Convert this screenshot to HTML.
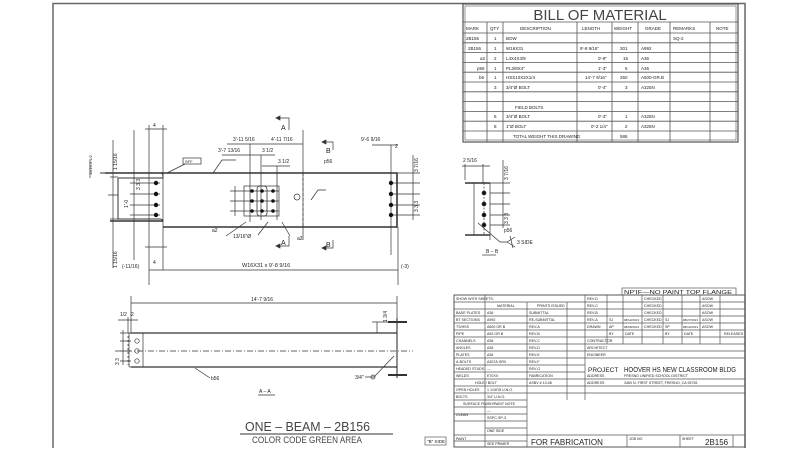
<!DOCTYPE html>
<html><head><meta charset="utf-8"><style>
html,body{margin:0;padding:0;background:#fff;}
svg{display:block;font-family:"Liberation Sans",sans-serif;}
</style></head><body>
<svg width="800" height="450" viewBox="0 0 800 450" xmlns="http://www.w3.org/2000/svg">
<g stroke="#444" fill="none" stroke-width="1">
<path d="M53 448 V3.5 H745 V448" stroke="#666" stroke-width="1.5"/>
</g>

<g stroke="#555" fill="none" stroke-width="0.8">
<rect x="463" y="4" width="275" height="138" stroke-width="1.2"/>
<rect x="465" y="6" width="271" height="134" stroke-width="0.6"/>
<line x1="463" y1="22" x2="738" y2="22"/>
<line x1="463" y1="33" x2="738" y2="33"/>
<line x1="463" y1="42.8" x2="738" y2="42.8"/><line x1="463" y1="52.6" x2="738" y2="52.6"/>
<line x1="463" y1="62.4" x2="738" y2="62.4"/><line x1="463" y1="72.2" x2="738" y2="72.2"/>
<line x1="463" y1="82" x2="738" y2="82"/><line x1="463" y1="91.8" x2="738" y2="91.8"/>
<line x1="463" y1="101.6" x2="738" y2="101.6"/><line x1="463" y1="111.4" x2="738" y2="111.4"/>
<line x1="463" y1="121.2" x2="738" y2="121.2"/><line x1="463" y1="131" x2="738" y2="131"/>
<path d="M487 22V142 M503 22V142 M577 22V142 M612 22V142 M638 22V142 M670 22V142 M710 22V142"/>
</g>
<g fill="#222" font-size="4.5">
<text x="600" y="20" font-size="15" text-anchor="middle" fill="#444">BILL OF MATERIAL</text>
<text x="466" y="30">MARK</text><text x="490" y="30">QTY</text><text x="520" y="30">DESCRIPTION</text><text x="582" y="30">LENGTH</text><text x="614" y="30">WEIGHT</text><text x="645" y="30">GRADE</text><text x="673" y="30">REMARKS</text><text x="716" y="30">NOTE</text>
<text x="466" y="40">2B156</text><text x="494" y="40">1</text><text x="506" y="40">BOW</text><text x="673" y="40">SQ-2</text>
<text x="468" y="50">2B156</text><text x="494" y="50">1</text><text x="506" y="50">W16X31</text><text x="580" y="50">9'-8 9/16"</text><text x="620" y="50">301</text><text x="641" y="50">A992</text>
<text x="480" y="60">a2</text><text x="494" y="60">2</text><text x="506" y="60">L4X4X3/8</text><text x="598" y="60">0'-9"</text><text x="623" y="60">15</text><text x="641" y="60">A36</text>
<text x="477" y="70">p56</text><text x="494" y="70">1</text><text x="506" y="70">PL3/8X4"</text><text x="598" y="70">1'-3"</text><text x="625" y="70">6</text><text x="641" y="70">A36</text>
<text x="479" y="79">b6</text><text x="494" y="79">1</text><text x="506" y="79">HSS10X2X1/4</text><text x="585" y="79">14'-7 9/16"</text><text x="620" y="79">260</text><text x="641" y="79">A500-GR.B</text>
<text x="494" y="89">3</text><text x="506" y="89">3/4"Ø BOLT</text><text x="598" y="89">0'-4"</text><text x="625" y="89">3</text><text x="641" y="89">A325N</text>
<text x="515" y="109">FIELD BOLTS</text>
<text x="494" y="118">6</text><text x="506" y="118">3/4"Ø BOLT</text><text x="598" y="118">0'-3"</text><text x="625" y="118">1</text><text x="641" y="118">A325N</text>
<text x="494" y="128">8</text><text x="506" y="128">1"Ø BOLT</text><text x="591" y="128">0'-2 1/4"</text><text x="625" y="128">2</text><text x="641" y="128">A325N</text>
<text x="513" y="138">TOTAL WEIGHT THIS DRAWING</text><text x="620" y="138">586</text>
</g>

<g stroke="#333" fill="none" stroke-width="0.7">
<path d="M100 173 H160 Q163 173 163 176 V178 H118 M118 178 V219 H160 Q163 219 163 222" stroke-width="1"/>
<path d="M163 173 H397 V227 H163" stroke-width="1.6"/>
<path d="M105 173 H163" stroke-width="1.6"/>
<path d="M110 221 H163" stroke-width="1.6"/>
<path d="M149 125 V285 M163 125 V270 M391 145 V255 M398 227 V285"/>
<path d="M145 129 H167 M145 247 H167"/>
<path d="M134 130 V260 M113 140 V268 M108 195 H118"/>
<path d="M130 183 H160 M130 194 H160 M130 205 H160 M130 215 H160 M110 177 H118 M110 219 H118"/>
<path d="M90 160 V178"/>
<path d="M391 183 H420 M391 194 H420 M391 205 H420 M391 215 H420 M398 173 H420 M413 155 V220 M372 145 H398"/>
<path d="M149 270 H398" />
<path d="M227 144 H303 M222 155 H275 M262 166 H290 M250 144 V222 M261 155 V220 M277 166 V220 M303 130 V240"/>
<rect x="244" y="186" width="35" height="30"/>
<path d="M244 191 H279 M244 201 H279 M244 211 H279 M230 191 H244 M230 201 H244 M230 211 H244 M235 186 V216"/>
<path d="M303 173 V227" stroke-dasharray="3,2"/>
<path d="M276 118 H289 V130 M276 246 H289 V236 M322 142 H333 V150 M322 248 H333 V240"/>
<path d="M276 118 l4 -2 v4 z M276 246 l4 -2 v4 z M322 142 l4 -2 v4z M322 248 l4 -2 v4z" fill="#333"/>
<path d="M213 173 L222 160 H236 M226 236 L246 222 M258 235 L268 222 M290 236 L282 222 M311 200 L318 190 H326"/>
<rect x="183" y="158" width="18" height="6"/>
<path d="M185 164 L167 173"/>
<circle cx="297" cy="197" r="3"/>
</g>
<g fill="#111">
<circle cx="156" cy="183" r="2.2"/><circle cx="156" cy="194" r="2.2"/><circle cx="156" cy="205" r="2.2"/><circle cx="156" cy="215" r="2.2"/>
<circle cx="391" cy="183" r="2.2"/><circle cx="391" cy="194" r="2.2"/><circle cx="391" cy="205" r="2.2"/><circle cx="391" cy="215" r="2.2"/>
<circle cx="252" cy="191" r="1.8"/><circle cx="262" cy="191" r="1.8"/><circle cx="273" cy="191" r="1.8"/>
<circle cx="252" cy="201" r="1.8"/><circle cx="262" cy="201" r="1.8"/><circle cx="273" cy="201" r="1.8"/>
<circle cx="252" cy="211" r="1.8"/><circle cx="262" cy="211" r="1.8"/><circle cx="273" cy="211" r="1.8"/>
</g>
<rect x="257" y="186" width="10" height="30" rx="3" fill="none" stroke="#333" stroke-width="0.8"/>
<g fill="#222" font-size="5">
<text x="153" y="127">4</text><text x="153" y="264">4</text>
<text x="233" y="141">3'-11 5/16</text><text x="271" y="141">4'-11 7/16</text>
<text x="218" y="152">3'-7 13/16</text><text x="262" y="152">3 1/2</text><text x="278" y="163">3 1/2</text>
<text x="361" y="141">9'-6 9/16</text><text x="395" y="148">2</text>
<text x="242" y="267" font-size="5.5">W16X31 x 9'-8 9/16</text>
<text x="122" y="268">(-11/16)</text><text x="401" y="268">(-3)</text>
<text x="281" y="130" font-size="7">A</text><text x="281" y="245" font-size="7">A</text>
<text x="326" y="153" font-size="7">B</text><text x="326" y="247" font-size="7">B</text>
<text x="212" y="232">a2</text><text x="233" y="238">13/16"Ø</text><text x="297" y="240">a2</text>
<text x="324" y="163">p56</text><text x="185" y="163" font-size="4">SFF</text>
<text transform="translate(128,208) rotate(-90)">1'-0</text>
<text transform="translate(117,170) rotate(-90)">1 15/16</text>
<text transform="translate(117,268) rotate(-90)">1 15/16</text>
<text transform="translate(92,175) rotate(-90)" font-size="4">11/16-3 1/2</text>
<text transform="translate(140,190) rotate(-90)">3 3 3</text>
<text transform="translate(418,212) rotate(-90)">3  3  3</text>
<text transform="translate(418,172) rotate(-90)">3 7/16</text>
</g>

<g stroke="#333" fill="none" stroke-width="0.7">
<path d="M465 183 H490 M465 235 H490" stroke-width="1.6"/>
<path d="M474 183 V235 M490 183 V240"/>
<path d="M484 183 V235" stroke-dasharray="2,1.5"/>
<path d="M465 164 V180 M483 164 V183 M462 166 H490 M490 193 H510 M490 204 H510 M490 215 H510 M490 225 H510 M490 183 H510 M503 160 V228"/>
<path d="M478 223 L500 242 H507 M507 242 l8 -5 M507 242 l8 5 M510 236 l3 12"/>
<circle cx="484" cy="193" r="2" fill="#111"/><circle cx="484" cy="204" r="2" fill="#111"/><circle cx="484" cy="215" r="2" fill="#111"/><circle cx="484" cy="225" r="2" fill="#111"/>
<path d="M482 255 H496"/>
</g>
<g fill="#222" font-size="5">
<text x="463" y="162">2 5/16</text><text x="486" y="253">B – B</text>
<text x="504" y="232">p56</text><text x="517" y="244">3 SIDE</text>
<text transform="translate(508,180) rotate(-90)">3 7/16</text>
<text transform="translate(508,224) rotate(-90)">3  3  3</text>
</g>

<g stroke="#333" fill="none" stroke-width="0.7">
<path d="M131 333 H397 M131 367 H397" stroke-width="1.3"/>
<path d="M115 351 H413" stroke-dasharray="6,2,1,2"/>
<rect x="129" y="333" width="14" height="34" rx="1"/>
<path d="M397 318 V378" stroke-width="1.1"/>
<path d="M388 322 H407 M388 375 H407" stroke-width="2"/>
<path d="M131 296 V333 M397 296 V320 M131 303 H397"/>
<path d="M377 322 V333 M372 322 H388"/>
<path d="M120 333 H131 M120 341 H131 M120 351 H131 M120 361 H131 M123 330 V365"/>
<path d="M118 320 H138 M128 317 V333"/>
<path d="M195 368 L210 378 M394 356 L374 377 H365"/>
<circle cx="373" cy="377" r="2"/>
<circle cx="137" cy="341" r="2.2"/><circle cx="137" cy="351" r="2.2"/><circle cx="137" cy="361" r="2.2"/>
<path d="M128 336 V365" stroke-dasharray="2,2"/>
<path d="M258 395 H275"/>
</g>
<g fill="#222" font-size="5">
<text x="251" y="301">14'-7 9/16</text>
<text x="120" y="316">1/2</text><text x="131" y="316">2</text>
<text x="211" y="380">b56</text><text x="355" y="379">3/4"</text>
<text x="259" y="393">A – A</text>
<text transform="translate(387,322) rotate(-90)">1 3/4</text>
<text transform="translate(119,365) rotate(-90)">3  3</text>
</g>
<text x="245" y="431" font-size="13" fill="#444" textLength="125" lengthAdjust="spacingAndGlyphs">ONE  –  BEAM  –  2B156</text>
<path d="M240 434 H393" stroke="#333" stroke-width="1"/>
<text x="252" y="443" font-size="9" fill="#444" textLength="110" lengthAdjust="spacingAndGlyphs">COLOR CODE GREEN AREA</text>
<rect x="425" y="437" width="21" height="8" fill="none" stroke="#444" stroke-width="0.6"/>
<text x="427" y="443" font-size="4.5" fill="#222">"B" SIDE</text>

<g stroke="#555" fill="none" stroke-width="0.7">
<rect x="622" y="288" width="114" height="7"/>
<rect x="454" y="295" width="291" height="152" stroke-width="1"/>
<path d="M454 302H745 M454 309H745 M454 316H745 M454 323H745 M454 330H745 M454 337H745 M454 344H745 M454 351H745 M454 358H745 M454 365H585 M454 372H585 M454 379H745 M454 386H745 M454 393H745 M454 400H527 M454 407H527 M454 414H527 M454 421H527 M485 428H527 M454 435H745 M454 441H527"/>
<path d="M485 295V447 M527 302V447 M567 302V400 M585 295V400 M607 295V344 M623 295V344 M642 295V344 M663 295V344 M682 295V344 M700 295V344 M720 295V344 M627 435V447 M680 435V447 M733 435V447"/>
</g>
<g fill="#222" font-size="3.6">
<text x="456" y="300">SHOW WITH SHEETS:</text>
<text x="497" y="307">MATERIAL</text><text x="537" y="307">PRINTS ISSUED</text>
<text x="456" y="314">BASE PLATES</text><text x="487" y="314">A36</text><text x="529" y="314">SUBMITTAL</text>
<text x="456" y="321">BT SECTIONS</text><text x="487" y="321">A992</text><text x="529" y="321">RE-SUBMITTAL</text>
<text x="456" y="328">TS/HSS</text><text x="487" y="328">A500 GR B</text><text x="529" y="328">REV-A</text>
<text x="456" y="335">PIPE</text><text x="487" y="335">A53 GR B</text><text x="529" y="335">REV-B</text>
<text x="456" y="342">CHANNELS</text><text x="487" y="342">A36</text><text x="529" y="342">REV-C</text>
<text x="456" y="349">ANGLES</text><text x="487" y="349">A36</text><text x="529" y="349">REV-D</text>
<text x="456" y="356">PLATES</text><text x="487" y="356">A36</text><text x="529" y="356">REV-E</text>
<text x="456" y="363">A-BOLTS</text><text x="487" y="363">A307A GR0</text><text x="529" y="363">REV-F</text>
<text x="456" y="370">HEADED STUDS</text><text x="487" y="370">—</text><text x="529" y="370">REV-G</text>
<text x="456" y="377">WELDS</text><text x="487" y="377">E70XX</text><text x="529" y="377">FABRICATION</text>
<text x="475" y="384">HOLE / BOLT</text><text x="529" y="384">ASBV # 13-08</text>
<text x="456" y="391">OPEN HOLES</text><text x="487" y="391">1 1/16"Ø U.N.O.</text>
<text x="456" y="398">BOLTS</text><text x="487" y="398">3/4" U.N.O.</text>
<text x="463" y="405">SURFACE FINISH/PAINT NOTE</text>
<text x="456" y="416">CLEAN</text><text x="487" y="412">—</text><text x="487" y="419">SSPC-SP-3</text>
<text x="456" y="440">PAINT</text><text x="487" y="432">ONE SIDE</text><text x="487" y="445">SEE PRIMER</text>
<text x="587" y="300">REV-D</text><text x="587" y="307">REV-C</text><text x="587" y="314">REV-B</text><text x="587" y="321">REV-A</text><text x="587" y="328">DRAWN</text>
<text x="609" y="321">SJ</text><text x="609" y="328">AP</text><text x="609" y="335">BY</text><text x="625" y="335">DATE</text>
<text x="644" y="300">CHECKED</text><text x="644" y="307">CHECKED</text><text x="644" y="314">CHECKED</text><text x="644" y="321">CHECKED</text><text x="644" y="328">CHECKED</text>
<text x="624" y="321" font-size="3">08/12/2013</text><text x="624" y="328" font-size="3">08/08/2013</text>
<text x="665" y="321">SJ</text><text x="665" y="328">SP</text><text x="665" y="335">BY</text><text x="684" y="335">DATE</text>
<text x="683" y="321" font-size="3">08/27/2013</text><text x="683" y="328" font-size="3">08/12/2013</text>
<text x="702" y="300">ASOW</text><text x="702" y="307">ASOW</text><text x="702" y="314">ASOW</text><text x="702" y="321">ASOW</text><text x="702" y="328">ASOW</text><text x="724" y="335">RELEASED</text>
<text x="587" y="342">CONTRACTOR</text><text x="587" y="349">ARCHITECT</text><text x="587" y="356">ENGINEER</text>
<text x="587" y="377">ADDRESS</text><text x="587" y="384">ADDRESS</text>
<text x="624" y="377">FRESNO UNIFIED SCHOOL DISTRICT</text><text x="624" y="384">3460 N. FIRST STREET, FRESNO, CA 93726</text>
<text x="629" y="440">JOB NO</text><text x="682" y="440">SHEET</text>
</g>
<text x="588" y="372" font-size="6.5" fill="#222">PROJECT</text>
<text x="624" y="372" font-size="7.5" fill="#222" textLength="112" lengthAdjust="spacingAndGlyphs">HOOVER HS NEW CLASSROOM BLDG</text>
<text x="624" y="294" font-size="5.5" fill="#222" textLength="108" lengthAdjust="spacingAndGlyphs">NP'IF—NO PAINT TOP FLANGE</text>
<text x="531" y="445" font-size="8" fill="#222">FOR FABRICATION</text>
<text x="705" y="445" font-size="8" fill="#222">2B156</text>
</svg>
</body></html>
